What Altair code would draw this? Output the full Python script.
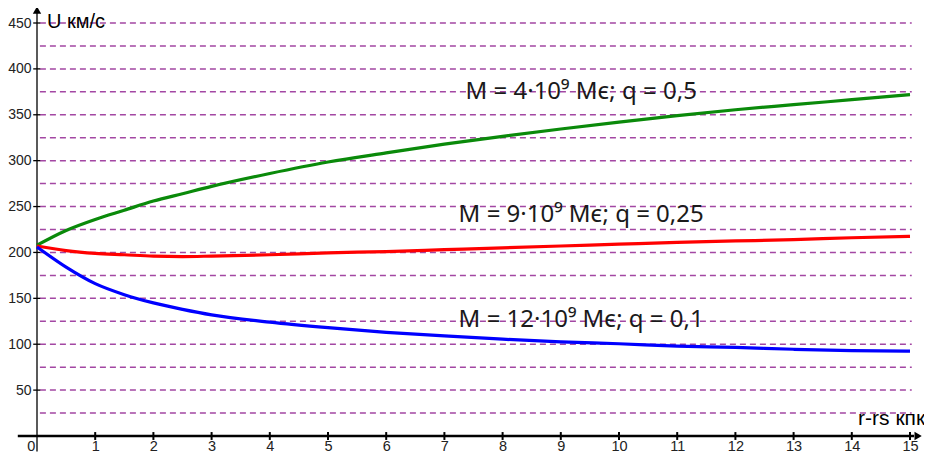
import altair as alt
import pandas as pd

# ---- data ----
x_vals = [0, 0.5, 1, 1.5, 2, 2.5, 3, 4, 5, 6, 7, 8, 9, 10, 11, 12, 13, 14, 15]
green_vals = [208, 224, 236, 246, 256, 264, 272, 286, 298.5, 308.5, 318, 326.5, 334.5, 342, 349, 355.5, 361, 366.5, 372]
red_vals = [207, 202, 199, 197.5, 196, 195.5, 196, 197.5, 199.5, 201, 203, 205, 207, 209, 211, 212.5, 214, 216, 217.5]
blue_vals = [206, 184, 166, 154, 145, 138, 132, 124, 118, 113, 109, 105.5, 102.5, 100.5, 98, 96.5, 94.5, 93, 92.5]

series_names = ["M = 4·10⁹ Mє; q = 0,5", "M = 9·10⁹ Mє; q = 0,25", "M = 12·10⁹ Mє; q = 0,1"]
series_colors = ["#0a8a0a", "#ff0000", "#0000ff"]

x_ticks = list(range(1, 16))
y_ticks = [50, 100, 150, 200, 250, 300, 350, 400, 450]
grid_vals = [25, 50, 75, 100, 125, 150, 175, 200, 225, 250, 275, 300, 325, 350, 375, 400, 425, 450]

y_title = "U км/с"
x_title = "r-rs кпк"
origin_label = "0"

# ---- tables ----
rows = []
for name, vals in zip(series_names, [green_vals, red_vals, blue_vals]):
    for xv, yv in zip(x_vals, vals):
        rows.append({"x": xv, "v": yv, "s": name})
curves_df = pd.DataFrame(rows)
labels_df = pd.DataFrame({"x": [9.35, 9.35, 9.35], "v": [367, 233, 119], "s": series_names})
grid_df = pd.DataFrame({"g": grid_vals, "x0": 0.05, "x1": 15.03})
xt_df = pd.DataFrame({"t": x_ticks, "y0": -4.3, "y1": 4.3})
yt_df = pd.DataFrame({"t": y_ticks, "x0": -0.065, "x1": 0.055})
xline_df = pd.DataFrame({"x0": [-0.33], "x1": [15.07], "y": [0]})
yline_df = pd.DataFrame({"x": [0], "y0": [-17], "y1": [462]})
yt_text_df = pd.DataFrame({"x": [0.17], "y": [445], "t": [y_title]})
xt_text_df = pd.DataFrame({"x": [15.26], "y": [12], "t": [x_title]})
orig_df = pd.DataFrame({"x": [-0.03], "y": [-11.5], "t": [origin_label]})
yarrow_df = pd.DataFrame({"x": [0], "y": [464]})
xarrow_df = pd.DataFrame({"x": [15.14], "y": [0]})

xs = alt.Scale(domain=[0, 15], nice=False, zero=False)
ys = alt.Scale(domain=[0, 450], nice=False, zero=False)

FONT = "Liberation Sans"

x_axis = alt.Axis(
    values=x_ticks, domain=False, ticks=False, grid=False, title=None,
    labelFont=FONT, labelFontSize=14.5, labelColor="#222222", labelPadding=3,
    labelFlush=False, labelOverlap=False,
)
y_axis = alt.Axis(
    values=y_ticks, domain=False, ticks=False, grid=False, title=None,
    labelFont=FONT, labelFontSize=14, labelColor="#222222", labelPadding=6,
    labelFlush=False, labelOverlap=False,
)


def X(f):
    return alt.X(f, type="quantitative", scale=xs, axis=x_axis, title=None)


def Y(f):
    return alt.Y(f, type="quantitative", scale=ys, axis=y_axis, title=None)


grid = alt.Chart(grid_df).mark_rule(
    color="#a347a3", strokeWidth=1.5, strokeDash=[6, 4]
).encode(y=Y("g"), x=X("x0"), x2="x1")

x_line = alt.Chart(xline_df).mark_rule(color="black", strokeWidth=2.5).encode(
    y=Y("y"), x=X("x0"), x2="x1"
)
y_line = alt.Chart(yline_df).mark_rule(color="black", strokeWidth=1.3).encode(
    x=X("x"), y=Y("y0"), y2="y1"
)

x_tick_marks = alt.Chart(xt_df).mark_rule(color="black", strokeWidth=2).encode(
    x=X("t"), y=Y("y0"), y2="y1"
)
y_tick_marks = alt.Chart(yt_df).mark_rule(color="black", strokeWidth=1.3).encode(
    y=Y("t"), x=X("x0"), x2="x1"
)

curves = alt.Chart(curves_df).mark_line(strokeWidth=3.2, interpolate="monotone").encode(
    x=X("x"),
    y=Y("v"),
    color=alt.Color("s:N", scale=alt.Scale(domain=series_names, range=series_colors), legend=None),
)

labels = alt.Chart(labels_df).mark_text(
    font="Noto Sans", fontSize=24, color="#1a1a1a", align="center", baseline="alphabetic"
).encode(x=X("x"), y=Y("v"), text="s:N")

y_title_mark = alt.Chart(yt_text_df).mark_text(
    font=FONT, fontSize=20, color="black", align="left", baseline="alphabetic"
).encode(x=X("x"), y=Y("y"), text="t:N")

x_title_mark = alt.Chart(xt_text_df).mark_text(
    font=FONT, fontSize=21, color="black", align="right", baseline="alphabetic"
).encode(x=X("x"), y=Y("y"), text="t:N")

origin_mark = alt.Chart(orig_df).mark_text(
    font=FONT, fontSize=14.5, color="#222222", align="right", baseline="middle"
).encode(x=X("x"), y=Y("y"), text="t:N")

y_arrow = alt.Chart(yarrow_df).mark_point(
    shape="triangle-up", filled=True, color="black", size=70, opacity=1
).encode(x=X("x"), y=Y("y"))

x_arrow = alt.Chart(xarrow_df).mark_point(
    shape="triangle-right", filled=True, color="black", size=70, opacity=1
).encode(x=X("x"), y=Y("y"))

chart = alt.layer(
    grid, x_line, y_line, x_tick_marks, y_tick_marks, curves, labels,
    y_title_mark, x_title_mark, origin_mark, y_arrow, x_arrow,
).properties(
    width=873, height=413,
    autosize=alt.AutoSizeParams(type="none"),
    padding={"left": 29, "top": 15, "right": 14, "bottom": 19},
    background="white",
).configure_view(stroke=None)

chart.save("out.html", embed_options={"renderer": "svg", "actions": False})
